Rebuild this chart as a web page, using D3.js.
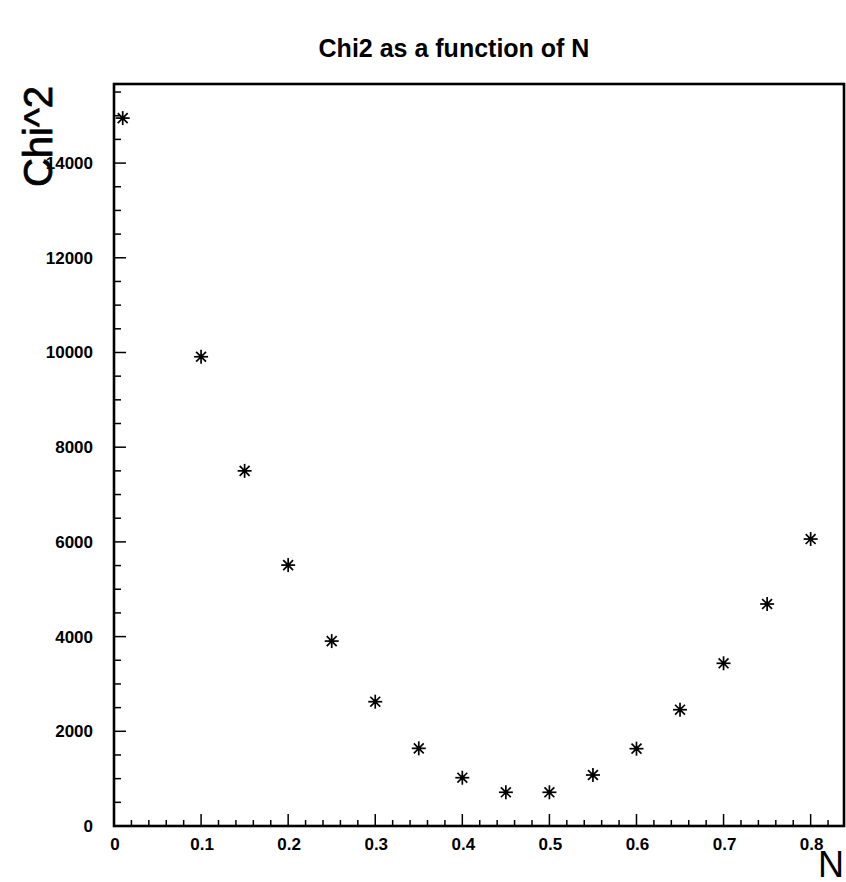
<!DOCTYPE html>
<html>
<head>
<meta charset="utf-8">
<script src="https://cdn.jsdelivr.net/npm/d3@7"></script>
<style>
  html, body { margin: 0; padding: 0; background: #fff; }
  svg { display: block; }
  text { font-family: "Liberation Sans", Arial, Helvetica, sans-serif; fill: #000; }
</style>
</head>
<body>
<svg id="chart" width="846" height="882"></svg>
<script>
// N values scanned and the resulting chi-square
const nValues = [0.01, 0.10, 0.15, 0.20, 0.25, 0.30, 0.35, 0.40, 0.45, 0.50, 0.55, 0.60, 0.65, 0.70, 0.75, 0.80];
const chi2Values = [14950, 9910, 7500, 5510, 3905, 2625, 1640, 1020, 712, 712, 1077, 1633, 2456, 3436, 4688, 6060];

const xTicks = [0, 0.1, 0.2, 0.3, 0.4, 0.5, 0.6, 0.7, 0.8];
const xTickLabels = ["0", "0.1", "0.2", "0.3", "0.4", "0.5", "0.6", "0.7", "0.8"];
const yTicks = [0, 2000, 4000, 6000, 8000, 10000, 12000, 14000];
const yTickLabels = ["0", "2000", "4000", "6000", "8000", "10000", "12000", "14000"];

const titleText = "Chi2 as a function of N";
const xTitle = "N";
const yTitle = "Chi^2";

const frame = { left: 114, right: 844, top: 84, bottom: 826 };

const x = d3.scaleLinear().domain([0, 0.8383]).range([frame.left, frame.right]);
const y = d3.scaleLinear().domain([0, 15670]).range([frame.bottom, frame.top]);

const svg = d3.select("#chart");

// minor ticks: 5 divisions per major on x, 4 on y
const xMinor = d3.range(0, 0.8383, 0.02).filter(v => Math.abs(v * 10 - Math.round(v * 10)) > 1e-6);
const yMinor = d3.range(0, 15670, 500).filter(v => v % 2000 !== 0);

const tickG = svg.append("g").attr("stroke", "#000").attr("stroke-width", 1.5);

tickG.selectAll("line.xmaj").data(xTicks).join("line")
  .attr("x1", d => x(d)).attr("x2", d => x(d))
  .attr("y1", frame.bottom).attr("y2", frame.bottom - 12);
tickG.selectAll("line.xmin").data(xMinor).join("line")
  .attr("x1", d => x(d)).attr("x2", d => x(d))
  .attr("y1", frame.bottom).attr("y2", frame.bottom - 6);

tickG.selectAll("line.ymaj").data(yTicks).join("line")
  .attr("y1", d => y(d)).attr("y2", d => y(d))
  .attr("x1", frame.left).attr("x2", frame.left + 12);
tickG.selectAll("line.ymin").data(yMinor).join("line")
  .attr("y1", d => y(d)).attr("y2", d => y(d))
  .attr("x1", frame.left).attr("x2", frame.left + 7);

// frame
svg.append("rect")
  .attr("x", frame.left).attr("y", frame.top)
  .attr("width", frame.right - frame.left).attr("height", frame.bottom - frame.top)
  .attr("fill", "none").attr("stroke", "#000").attr("stroke-width", 2.6);

// tick labels
svg.append("g").selectAll("text").data(xTicks).join("text")
  .attr("x", d => x(d) + 1).attr("y", frame.bottom + 24)
  .attr("text-anchor", "middle")
  .style("font-size", "17px").style("font-weight", "bold")
  .text((d, i) => xTickLabels[i]);

svg.append("g").selectAll("text").data(yTicks).join("text")
  .attr("x", frame.left - 21).attr("y", d => y(d) + 6)
  .attr("text-anchor", "end")
  .style("font-size", "17px").style("font-weight", "bold")
  .text((d, i) => yTickLabels[i]);

// asterisk markers
const r = 7;
const pts = svg.append("g").selectAll("g").data(nValues.map((n, i) => [n, chi2Values[i]])).join("g")
  .attr("transform", d => `translate(${x(d[0])},${y(d[1])})`)
  .attr("stroke", "#000").attr("stroke-width", 1.7);
[[1, 0], [0, 1], [0.707, 0.707], [0.707, -0.707]].forEach(([dx, dy]) => {
  pts.append("line")
    .attr("x1", -dx * r).attr("y1", -dy * r)
    .attr("x2", dx * r).attr("y2", dy * r);
});
pts.append("circle").attr("r", 2.4).attr("fill", "#000").attr("stroke", "none");

// titles
svg.append("text")
  .attr("x", 454).attr("y", 57)
  .attr("text-anchor", "middle")
  .style("font-size", "25px").style("font-weight", "bold")
  .text(titleText);

svg.append("text")
  .attr("x", frame.right).attr("y", 877)
  .attr("text-anchor", "end")
  .style("font-size", "36px")
  .text(xTitle);

svg.append("text")
  .attr("transform", `translate(52, ${frame.top + 2}) rotate(-90)`)
  .attr("text-anchor", "end")
  .style("font-size", "40px").style("font-weight", "500")
  .attr("stroke", "#000").attr("stroke-width", 0.8)
  .text(yTitle);
</script>
</body>
</html>
